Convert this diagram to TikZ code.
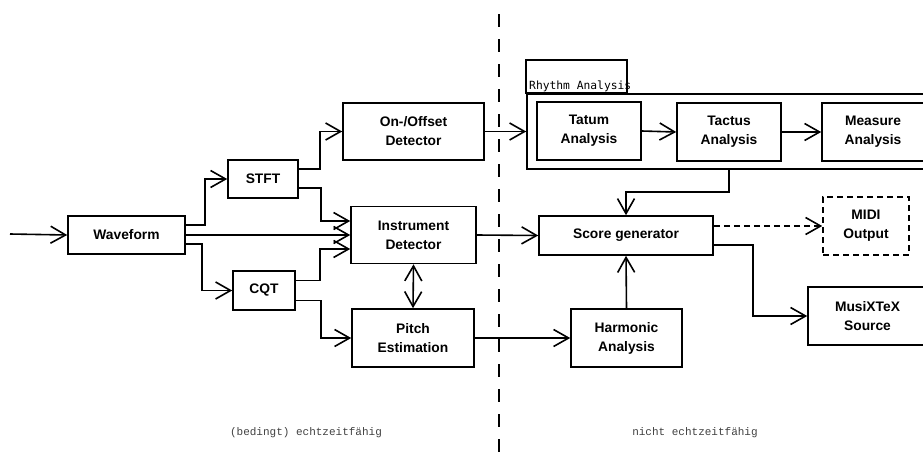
\documentclass[tikz,border=0pt]{standalone}
\usepackage{fontspec}
\setmainfont{Liberation Sans}
\newfontfamily\labelmono{DejaVu Sans Mono}
\newfontfamily\notemono{Liberation Mono}
\usetikzlibrary{arrows.meta}
\tikzset{
    block/.style={draw, line width=1.6pt, align=center, inner sep=0pt,
        font=\fontsize{13.8}{19}\selectfont\bfseries},
    barb/.tip={Straight Barb[length=15pt,width=17pt,line width=1.6pt]},
    arr/.style={line width=1.6pt, -barb},
    twoarr/.style={line width=1.6pt, barb-barb},
    dashbox/.style={dash pattern=on 6pt off 4pt},
    note/.style={font=\notemono\fontsize{11}{13}\selectfont, text=black!75}
}
\begin{document}
\begin{tikzpicture}[x=1pt, y=-1pt]
    \useasboundingbox (0,0) rectangle (923,461);
    \clip (0,0) rectangle (923,461);
    % Blocks left of the divider
    \node[block, minimum width=117, minimum height=38] (wave) at (126.5,235) {Waveform};
    \node[block, minimum width=70, minimum height=38] (stft) at (263,179) {STFT};
    \node[block, minimum width=62, minimum height=39] (cqt) at (264,290.5) {CQT};
    \node[block, minimum width=141, minimum height=57] (onset) at (413.5,131.5) {On-/Offset\\Detector};
    \node[block, minimum width=125, minimum height=57] (instr) at (413.5,235) {Instrument\\Detector};
    \node[block, minimum width=122, minimum height=58] (pitch) at (413,338) {Pitch\\Estimation};
    % Rhythm analysis group
    \node[block, minimum width=410, minimum height=75] (rhythm) at (732,131.5) {};
    \draw[line width=1.6pt] (rhythm.north west) rectangle ++(101,-33);
    \node[anchor=base west, inner sep=0pt, font=\labelmono\fontsize{11.3}{13}\selectfont] (rlabel) at (529,89) {Rhythm Analysis};
    \node[block, minimum width=104, minimum height=58] (tatum) at (589,131) {Tatum\\Analysis};
    \node[block, minimum width=104, minimum height=58] (tactus) at (729,132) {Tactus\\Analysis};
    \node[block, minimum width=102, minimum height=58] (measure) at (873,132) {Measure\\Analysis};
    % Blocks right of the divider
    \node[block, minimum width=174, minimum height=39] (score) at (626,235.5) {Score generator};
    \node[block, dashbox, minimum width=86, minimum height=58] (midi) at (866,226) {MIDI\\Output};
    \node[block, minimum width=119, minimum height=58] (musix) at (867.5,316) {MusiXTeX\\Source};
    \node[block, minimum width=111, minimum height=58] (harm) at (626.5,338) {Harmonic\\Analysis};
    % Divider
    \coordinate (divtop) at (499,14);
    \coordinate (divbot) at (499,461);
    \draw[line width=2pt, dash pattern=on 13pt off 12pt] (divtop) -- (divbot);
    \node[note] (rtleft) at (306,433) {(bedingt) echtzeitfähig};
    \node[note] (rtright) at (695,433) {nicht echtzeitfähig};
    % Arrows
    \coordinate (in) at (10,234);
    \draw[arr] (in) -- (wave.west);
    \draw[arr] ([yshift=10pt]wave.east) -- ++(19,0) |- (stft.west);
    \draw[arr] (wave.east) -- (instr.west);
    \draw[arr] ([yshift=-9pt]wave.east) -- ++(16,0) |- (cqt.west);
    \draw[arr] ([yshift=10pt]stft.east) -- ++(21,0) |- (onset.west);
    \draw[arr] ([yshift=-9pt]stft.east) -- ++(22,0) |- ([yshift=14pt]instr.west);
    \draw[arr] ([yshift=10pt]cqt.east) -- ++(24,0) |- ([yshift=-14pt]instr.west);
    \draw[arr] ([yshift=-10pt]cqt.east) -- ++(25,0) |- (pitch.west);
    \draw[twoarr] (instr.south) -- (pitch.north);
    \draw[arr] (onset.east) -- (onset.east -| rhythm.west);
    \draw[arr] (tatum.east) -- (tactus.west);
    \draw[arr] (tactus.east) -- (measure.west);
    \draw[arr] (instr.east) -- (score.west);
    \draw[arr] (pitch.east) -- (harm.west);
    \draw[arr] (tactus |- rhythm.south) -- ++(0,22) -| (score.north);
    \draw[arr] (harm.north) -- (score.south);
    \draw[arr, dashbox] ([yshift=9.5pt]score.east) -- (midi.west);
    \draw[arr] ([yshift=-9.5pt]score.east) -- ++(39,0) |- (musix.west);
\end{tikzpicture}
\end{document}
